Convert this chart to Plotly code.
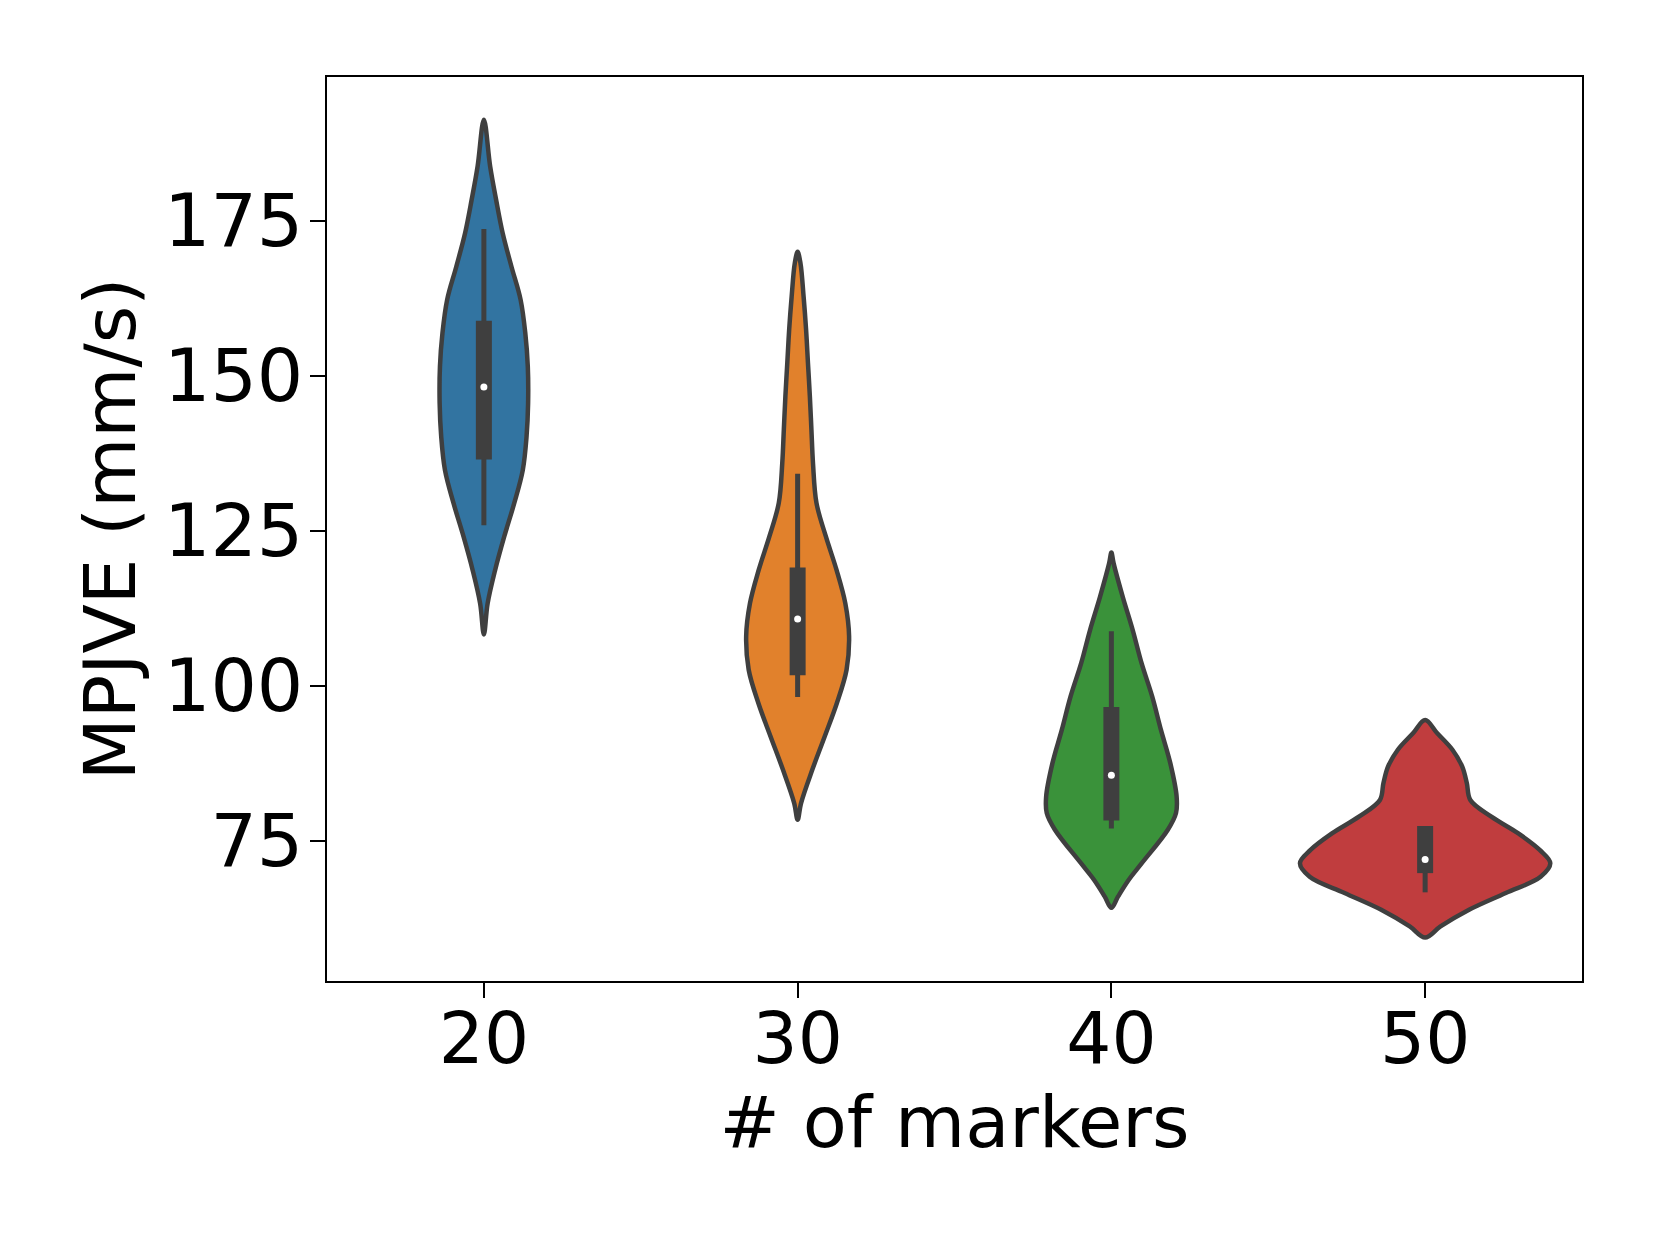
import plotly.graph_objects as go

# ---------------- data ----------------
categories = ["20", "30", "40", "50"]

# violin outlines: value levels (top -> bottom) and KDE half-widths (category units)
levels_20 = [191.3, 183.8, 178.4, 173.0, 167.6, 162.3, 156.9, 151.5, 145.6, 140.2, 134.8, 129.5, 124.1, 118.7, 113.3, 108.3]
widths_20 = [0.0, 0.020, 0.039, 0.060, 0.088, 0.117, 0.132, 0.140, 0.141, 0.136, 0.124, 0.097, 0.065, 0.036, 0.012, 0.0]

levels_30 = [170.0, 168.2, 162.8, 157.4, 152.0, 146.7, 141.3, 135.9, 129.5, 124.1, 118.7, 113.3, 108.0, 102.6, 97.2, 91.8, 86.5, 81.1, 78.4]
widths_30 = [0.0, 0.009, 0.019, 0.027, 0.033, 0.039, 0.044, 0.049, 0.060, 0.090, 0.124, 0.152, 0.164, 0.156, 0.125, 0.086, 0.047, 0.011, 0.0]

levels_40 = [121.5, 119.8, 114.4, 109.0, 103.7, 98.3, 92.9, 87.5, 82.1, 79.5, 76.8, 71.4, 68.7, 66.0, 64.2]
widths_40 = [0.0, 0.007, 0.036, 0.068, 0.096, 0.130, 0.158, 0.188, 0.208, 0.206, 0.180, 0.097, 0.055, 0.021, 0.0]

levels_50 = [94.5, 92.4, 89.7, 87.0, 84.3, 81.6, 78.9, 76.2, 73.5, 71.4, 69.2, 66.6, 63.9, 61.2, 59.4]
widths_50 = [0.0, 0.038, 0.087, 0.118, 0.133, 0.144, 0.211, 0.297, 0.366, 0.399, 0.368, 0.257, 0.140, 0.049, 0.0]

# inner box statistics
whisker_low = [125.9, 98.2, 77.0, 66.7]
q1 = [136.5, 101.7, 78.3, 69.8]
median = [148.2, 110.8, 85.6, 72.0]
q3 = [158.9, 119.1, 96.6, 77.4]
whisker_high = [173.7, 134.2, 108.8, 77.4]

y_ticks = [75, 100, 125, 150, 175]

# ---------------- styling ----------------
colors = ["#3274a1", "#e1812c", "#3a923a", "#c03d3e"]
edge = "#3f3f3f"
FONT = "DejaVu Sans"

levels_all = [levels_20, levels_30, levels_40, levels_50]
widths_all = [widths_20, widths_30, widths_40, widths_50]

fig = go.Figure()

for i, (lv, wd) in enumerate(zip(levels_all, widths_all)):
    # left side, top -> bottom
    xs = [i - w for w in wd]
    ys = list(lv)
    # right side, bottom -> top (skip bottom tip duplicate), closing at the top tip
    xs += [i + w for w in reversed(wd[:-1])]
    ys += list(reversed(lv[:-1]))
    fig.add_trace(go.Scatter(
        x=xs, y=ys, mode="lines", fill="toself", fillcolor=colors[i],
        line=dict(color=edge, width=4.5, shape="spline", smoothing=1.0),
        hoverinfo="skip", showlegend=False,
    ))

for i in range(len(categories)):
    # whisker
    fig.add_trace(go.Scatter(
        x=[i, i], y=[whisker_low[i], whisker_high[i]], mode="lines",
        line=dict(color=edge, width=5), hoverinfo="skip", showlegend=False,
    ))
    # box
    fig.add_trace(go.Scatter(
        x=[i, i], y=[q1[i], q3[i]], mode="lines",
        line=dict(color=edge, width=16), hoverinfo="skip", showlegend=False,
    ))
    # median
    fig.add_trace(go.Scatter(
        x=[i], y=[median[i]], mode="markers",
        marker=dict(color="white", size=7, line=dict(width=0)),
        hoverinfo="skip", showlegend=False,
    ))

axis_common = dict(
    showline=True, linecolor="black", linewidth=2.2, mirror=True,
    ticks="outside", ticklen=15, tickwidth=2, tickcolor="black",
    showgrid=False, zeroline=False,
)

# page body has an 8px margin, so the figure is sized/offset to compensate
fig.update_layout(
    width=1644, height=1229,
    margin=dict(l=319, r=70, t=69, b=256),
    paper_bgcolor="white", plot_bgcolor="white",
    font=dict(family=FONT, color="black"),
    xaxis=dict(
        range=[-0.5, 3.5],
        tickmode="array", tickvals=list(range(len(categories))), ticktext=categories,
        tickfont=dict(family=FONT, size=71, color="black"),
        title=dict(text="# of markers", font=dict(family=FONT, size=72, color="black"), standoff=17),
        ticklabelstandoff=-20,
        **axis_common,
    ),
    yaxis=dict(
        range=[52.4, 198.2],
        tickmode="array", tickvals=y_ticks, ticktext=[str(t) for t in y_ticks],
        tickfont=dict(family=FONT, size=73, color="black"),
        title=dict(text="MPJVE (mm/s)", font=dict(family=FONT, size=72, color="black"), standoff=5),
        ticklabelstandoff=-8,
        **axis_common,
    ),
)

fig.write_html("out.html")
